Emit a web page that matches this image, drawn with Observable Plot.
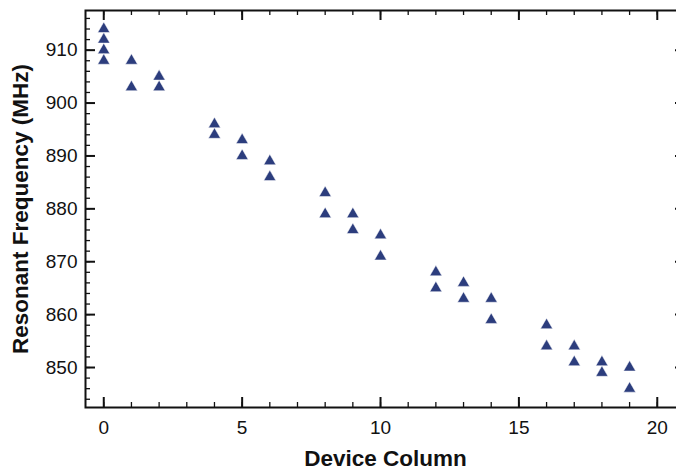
<!DOCTYPE html>
<html><head><meta charset="utf-8">
<script src="https://cdn.jsdelivr.net/npm/d3@7"></script>
<script src="https://cdn.jsdelivr.net/npm/@observablehq/plot@0.6"></script>
<style>
html,body{margin:0;padding:0;background:#fff;overflow:hidden;width:676px;height:467px}
#chart{width:686px;height:467px}
#chart svg{max-width:none !important}
</style></head><body><div id="chart"></div>
<script>
const column = [0,0,0,0,1,1,2,2,4,4,5,5,6,6,8,8,9,9,10,10,12,12,13,13,14,14,16,16,17,17,18,18,19,19];
const frequency = [914,912,910,908,908,903,905,903,896,894,893,890,889,886,883,879,879,876,875,871,868,865,866,863,863,859,858,854,854,851,851,849,850,846];
const xMajorTicks = [0,5,10,15,20];
const xMinorTicks = [0,1,2,3,4,5,6,7,8,9,10,11,12,13,14,15,16,17,18,19,20,21];
const yMajorTicks = [850,860,870,880,890,900,910];
const yMinorTicks = [844,846,848,850,852,854,856,858,860,862,864,866,868,870,872,874,876,878,880,882,884,886,888,890,892,894,896,898,900,902,904,906,908,910,912,914,916];
const xLabel = "Device Column";
const yLabel = "Resonant Frequency (MHz)";

const data = column.map((c, i) => ({column: c, frequency: frequency[i]}));

const W = 686, H = 467, mL = 85, mR = 1, mT = 10, mB = 60;
const innerH = H - mT - mB, innerW = W - mL - mR;
const ink = "#111";

const chart = Plot.plot({
  width: W, height: H,
  marginLeft: mL, marginRight: mR, marginTop: mT, marginBottom: mB,
  style: {fontFamily: "'Liberation Sans', Arial, Helvetica, sans-serif", background: "white", color: ink, maxWidth: "none"},
  x: {domain: [-0.66, 21.02]},
  y: {domain: [842.44, 917.5]},
  marks: [
    Plot.tickX(xMinorTicks, {insetTop: innerH - 5, stroke: ink, strokeWidth: 1.3}),
    Plot.tickX(xMinorTicks, {insetBottom: innerH - 5, stroke: ink, strokeWidth: 1.3}),
    Plot.tickX(xMajorTicks, {insetTop: innerH - 10, stroke: ink, strokeWidth: 2}),
    Plot.tickX(xMajorTicks, {insetBottom: innerH - 10, stroke: ink, strokeWidth: 2}),
    Plot.tickY(yMinorTicks, {insetRight: innerW - 5, stroke: ink, strokeWidth: 1.3}),
    Plot.tickY(yMinorTicks, {insetLeft: innerW - 5, stroke: ink, strokeWidth: 1.3}),
    Plot.tickY(yMajorTicks, {insetRight: innerW - 10, stroke: ink, strokeWidth: 2}),
    Plot.tickY(yMajorTicks, {insetLeft: innerW - 10, stroke: ink, strokeWidth: 2}),
    Plot.frame({stroke: ink, strokeWidth: 2}),
    Plot.axisX(xMajorTicks, {tickSize: 0, tickPadding: 13, fontSize: 19, label: null}),
    Plot.axisY(yMajorTicks, {tickSize: 0, tickPadding: 8, fontSize: 19, label: null}),
    Plot.dot(data, {x: "column", y: "frequency", symbol: "triangle", r: 4.5, fill: "#2c3d7d", stroke: "white", strokeWidth: 0.5}),
    Plot.text([xLabel], {frameAnchor: "bottom", textAnchor: "middle", lineAnchor: "middle", dy: 51.5, fontSize: 22.5, fontWeight: "bold", fill: ink}),
    Plot.text([yLabel], {frameAnchor: "left", textAnchor: "middle", lineAnchor: "middle", rotate: -90, dx: -64.4, fontSize: 22.5, fontWeight: "bold", fill: ink})
  ]
});
document.getElementById("chart").appendChild(chart);
</script></body></html>
